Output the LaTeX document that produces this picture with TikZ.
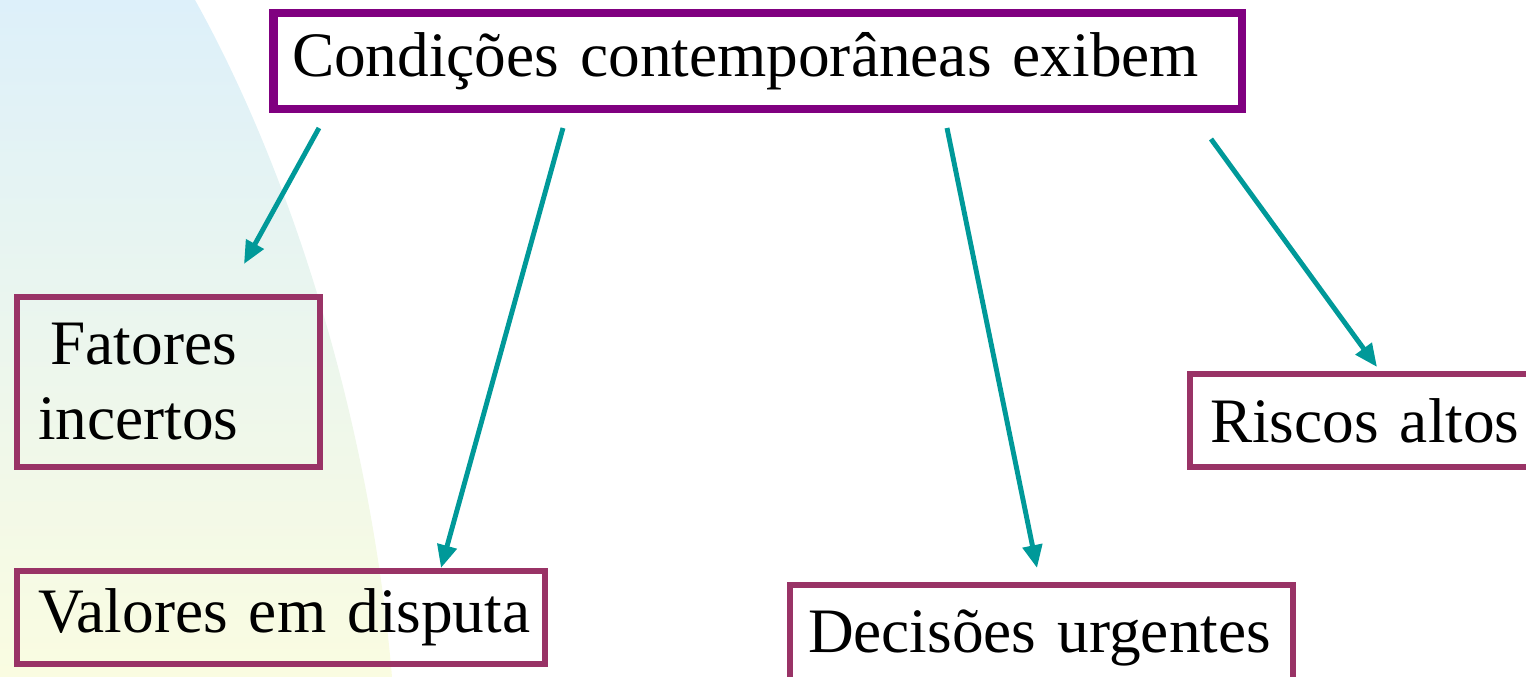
\documentclass[tikz,border=0pt]{standalone}
\usepackage{fontspec}
\setmainfont{Liberation Serif}
\usepackage{xcolor}
\usepackage{tikz}
\usetikzlibrary{arrows.meta}

\definecolor{framepurple}{HTML}{800080}
\definecolor{framewine}{HTML}{993366}
\definecolor{arrowteal}{HTML}{009999}
\definecolor{bgblue}{RGB}{221,240,250}
\definecolor{bgyellow}{RGB}{250,252,225}

\begin{document}
\begin{tikzpicture}[x=0.01cm, y=-0.01cm]
  % Define styles
  \tikzstyle{headbox} = [draw=framepurple, line width=2.3pt, anchor=north west, align=left,
                         outer sep=0pt, inner ysep=0pt, font=\fontsize{18}{21.3}\selectfont]
  \tikzstyle{leafbox} = [draw=framewine, line width=1.7pt, anchor=north west, align=left,
                         outer sep=0pt, inner ysep=0pt, font=\fontsize{18}{21.3}\selectfont]
  \tikzstyle{link} = [-{Triangle[length=6.5pt, width=5.5pt]}, line width=1.4pt, draw=arrowteal]

  \clip (0,0) rectangle (1526,677);

  % Background
  \shade[top color=bgblue, bottom color=bgyellow]
    (0,0) -- (195,0) .. controls (290,170) and (370,420) .. (392,677) -- (0,677) -- cycle;

  % Nodes
  \node[headbox, inner xsep=0.185cm, text width=9.31cm, minimum height=0.96cm] (cond) at (273.5,13)
    {Condições contemporâneas exibem};
  \node[leafbox, inner xsep=0.21cm, text width=2.61cm, minimum height=1.70cm] (fatores) at (17,297)
    {\hspace*{0.2em}Fatores\\incertos};
  \node[leafbox, inner xsep=0.21cm, text width=4.86cm, minimum height=0.93cm] (valores) at (17,571)
    {\mbox{Valores em disputa}};
  \node[leafbox, inner xsep=0.18cm, text width=4.67cm, minimum height=1.06cm] (decisoes) at (790,585)
    {\mbox{Decisões urgentes}};
  \node[leafbox, inner xsep=0.20cm, text width=3.60cm, minimum height=0.93cm] (riscos) at (1190,374)
    {\mbox{Riscos altos}};

  % Arrow ends
  \coordinate (cond-a) at (319,128);
  \coordinate (cond-b) at (563,128);
  \coordinate (cond-c) at (947,128);
  \coordinate (cond-d) at (1211,139);
  \coordinate (fatores-in) at (244,264);
  \coordinate (valores-in) at (441,568);
  \coordinate (decisoes-in) at (1037,568);
  \coordinate (riscos-in) at (1377,367);

  % Arrows
  \draw[link] (cond-a) -- (fatores-in);
  \draw[link] (cond-b) -- (valores-in);
  \draw[link] (cond-c) -- (decisoes-in);
  \draw[link] (cond-d) -- (riscos-in);
\end{tikzpicture}
\end{document}
